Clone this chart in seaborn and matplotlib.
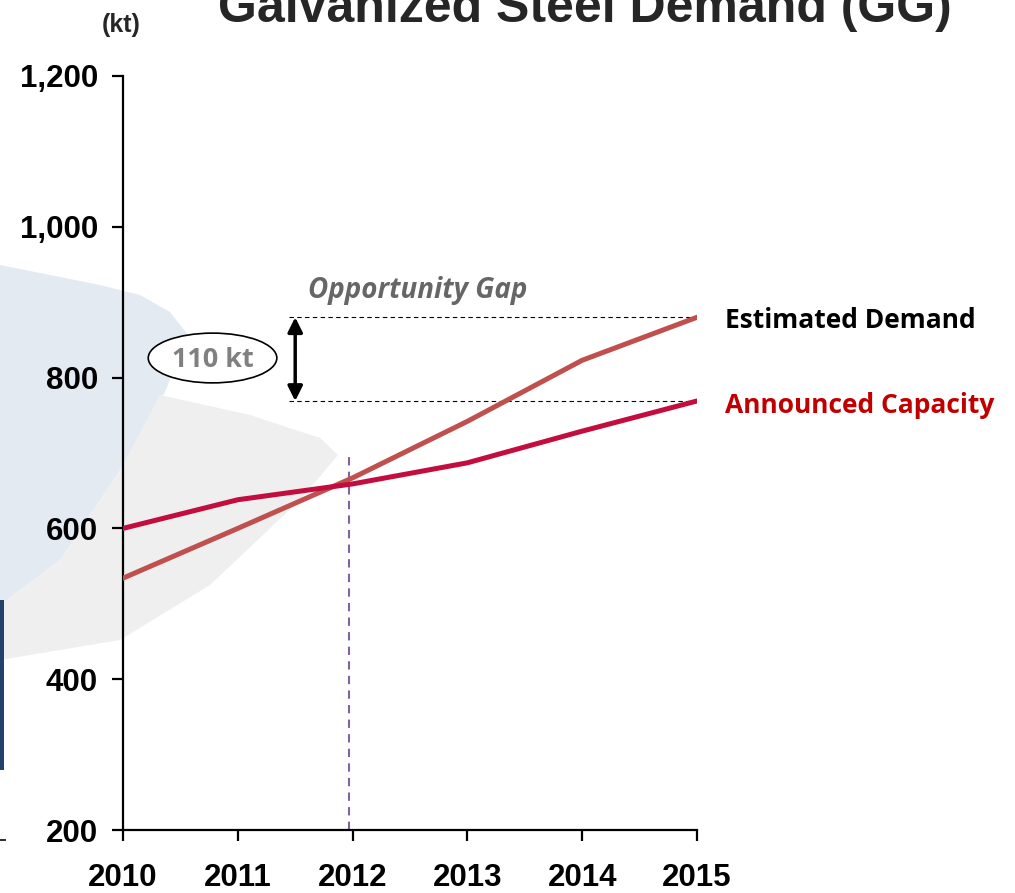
import matplotlib
matplotlib.use("Agg")
import matplotlib.pyplot as plt
from matplotlib.patches import Ellipse, Polygon, Rectangle
import seaborn as sns
import pandas as pd

# data (kt)
years = [2010, 2011, 2012, 2013, 2014, 2015]
estimated_demand = [534, 600, 667, 742, 823, 880]
announced_capacity = [600, 638, 659, 687, 729, 769]
y_ticks = [200, 400, 600, 800, 1000, 1200]

demand_color = "#C0504D"
capacity_color = "#C30D3E"

df = pd.DataFrame({
    "year": years * 2,
    "kt": estimated_demand + announced_capacity,
    "series": ["Estimated Demand"] * len(years) + ["Announced Capacity"] * len(years),
})

sns.set_style("white")
plt.rcParams["font.family"] = ["Liberation Sans", "DejaVu Sans"]
label_font = ["Open Sans", "DejaVu Sans"]

fig = plt.figure(figsize=(10.15, 8.93), dpi=100)

# faded watermark shapes in the background
W, H = 1015, 893
def px(pts):
    return [(x / W, 1 - y / H) for x, y in pts]

fig.patches.append(Polygon(px([(0, 265), (100, 285), (140, 295), (170, 312), (188, 335),
                               (165, 392), (120, 470), (60, 560), (0, 605)]),
                           closed=True, transform=fig.transFigure, facecolor="#E4EAF2",
                           edgecolor="none", zorder=-2))
fig.patches.append(Polygon(px([(160, 395), (250, 415), (320, 438), (338, 455), (300, 500),
                               (210, 585), (120, 640), (0, 660), (0, 605), (60, 560),
                               (120, 470)]),
                           closed=True, transform=fig.transFigure, facecolor="#EFEFF0",
                           edgecolor="none", zorder=-2))
fig.patches.append(Rectangle((0, 1 - 770 / H), 4 / W, 170 / H, transform=fig.transFigure,
                             facecolor="#24416B", edgecolor="none", zorder=-1))
fig.patches.append(Rectangle((0, 1 - 841 / H), 6 / W, 2 / H, transform=fig.transFigure,
                             facecolor="#333333", edgecolor="none", zorder=-1))

ax = fig.add_axes([123 / W, 1 - 830 / H, (697 - 123) / W, (830 - 76) / H])
ax.patch.set_alpha(0)

sns.lineplot(data=df, x="year", y="kt", hue="series",
             palette={"Estimated Demand": demand_color, "Announced Capacity": capacity_color},
             linewidth=3.6, legend=False, ax=ax, zorder=3)

ax.set_xlim(2010, 2015)
ax.set_ylim(200, 1200)
ax.set_xticks(years)
ax.set_yticks(y_ticks)
ax.set_yticklabels([f"{v:,}" for v in y_ticks])
ax.set_xlabel("")
ax.set_ylabel("")
for side in ["top", "right"]:
    ax.spines[side].set_visible(False)
for side in ["left", "bottom"]:
    ax.spines[side].set_linewidth(1.6)
    ax.spines[side].set_color("black")
ax.tick_params(axis="both", direction="out", length=8, width=1.6, colors="black",
               labelsize=22.5, bottom=True, left=True)
ax.tick_params(axis="x", pad=16)
ax.tick_params(axis="y", pad=10)
for lab in ax.get_xticklabels() + ax.get_yticklabels():
    lab.set_fontweight("bold")

# opportunity gap markers
gap_top = estimated_demand[-1]
gap_bottom = announced_capacity[-1]
for v in [gap_top, gap_bottom]:
    ax.plot([2011.45, 2015], [v, v], color="black", linestyle=(0, (4, 3)), linewidth=0.8,
            zorder=2)
ax.annotate("", xy=(2011.5, gap_top), xytext=(2011.5, gap_bottom),
            arrowprops=dict(arrowstyle="<|-|>", color="black", lw=2.5, mutation_scale=22,
                            shrinkA=0, shrinkB=0))
ax.plot([2011.97, 2011.97], [200, 700], color="#8064A2", linestyle=(0, (4, 3)),
        linewidth=1.5, zorder=2)

ax.add_patch(Ellipse((2010.78, 826), 1.12, 66, facecolor="white", edgecolor="black",
                     linewidth=1.2, zorder=4, clip_on=False))
ax.text(2010.78, 824, "110 kt", ha="center", va="center",
        fontsize=19.5, fontweight="bold", color="#808080", family=label_font, zorder=5)
ax.text(2012.57, 916, "Opportunity Gap", ha="center", va="center", fontsize=20,
        fontweight="bold", fontstyle="italic", color="#666666", family=label_font)

ax.text(2015.24, gap_top - 4, "Estimated Demand", ha="left", va="center", fontsize=19,
        fontweight="bold", color="black", family=label_font, clip_on=False)
ax.text(2015.24, gap_bottom - 6, "Announced Capacity", ha="left", va="center", fontsize=19,
        fontweight="bold", color="#C00000", family=label_font, clip_on=False)

fig.text(121 / W, 1 - 25 / H, "(kt)", ha="center", va="center", fontsize=18,
         fontweight="bold")
fig.text(585 / W, 1 - 22 / H, "Galvanized Steel Demand (GG)", ha="center", va="baseline",
         fontsize=36, fontweight="bold")

fig.savefig("out.png", dpi=100)
